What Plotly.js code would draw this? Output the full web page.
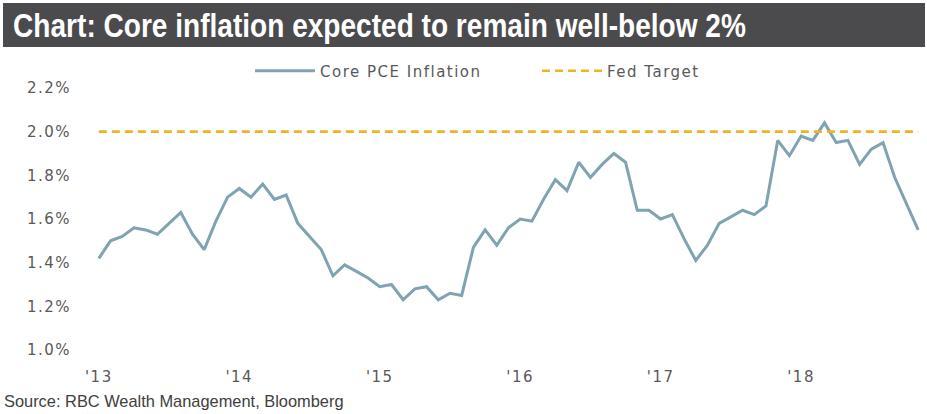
<!DOCTYPE html>
<html>
<head>
<meta charset="utf-8">
<script src="https://cdn.plot.ly/plotly-3.0.1.min.js"></script>
<style>
  html, body { margin: 0; padding: 0; background: #ffffff; }
  #chart { width: 927px; height: 414px; }
  #chart .xtick text, #chart .ytick text, #chart .legendtext { letter-spacing: 1.5px; }
</style>
</head>
<body>
<div id="chart"></div>
<script>
// ---- Data ----
const months = [
  "2013-01","2013-02","2013-03","2013-04","2013-05","2013-06","2013-07","2013-08","2013-09","2013-10","2013-11","2013-12",
  "2014-01","2014-02","2014-03","2014-04","2014-05","2014-06","2014-07","2014-08","2014-09","2014-10","2014-11","2014-12",
  "2015-01","2015-02","2015-03","2015-04","2015-05","2015-06","2015-07","2015-08","2015-09","2015-10","2015-11","2015-12",
  "2016-01","2016-02","2016-03","2016-04","2016-05","2016-06","2016-07","2016-08","2016-09","2016-10","2016-11","2016-12",
  "2017-01","2017-02","2017-03","2017-04","2017-05","2017-06","2017-07","2017-08","2017-09","2017-10","2017-11","2017-12",
  "2018-01","2018-02","2018-03","2018-04","2018-05","2018-06","2018-07","2018-08","2018-09","2018-10","2018-11"
];
const corePCE = [
  1.42,1.50,1.52,1.56,1.55,1.53,1.58,1.63,1.53,1.46,1.59,1.70,
  1.74,1.70,1.76,1.69,1.71,1.58,1.52,1.46,1.34,1.39,1.36,1.33,
  1.29,1.30,1.23,1.28,1.29,1.23,1.26,1.25,1.47,1.55,1.48,1.56,
  1.60,1.59,1.69,1.78,1.73,1.86,1.79,1.85,1.90,1.86,1.64,1.64,
  1.60,1.62,1.51,1.41,1.48,1.58,1.61,1.64,1.62,1.66,1.96,1.89,
  1.98,1.96,2.04,1.95,1.96,1.85,1.92,1.95,1.79,1.67,1.55
];
const fedTarget = months.map(() => 2.0);
const yearTickMonths = ["2013-01","2014-01","2015-01","2016-01","2017-01","2018-01"];
const yearTickLabels = ["'13","'14","'15","'16","'17","'18"];
const yTicks = [1.0, 1.2, 1.4, 1.6, 1.8, 2.0, 2.2];
const yTickLabels = ["1.0%","1.2%","1.4%","1.6%","1.8%","2.0%","2.2%"];

const seriesNames = ["Core PCE Inflation", "Fed Target"];
const titleText = "Chart: Core inflation expected to remain well-below 2%";
const sourceText = "Source: RBC Wealth Management, Bloomberg";

// ---- Layout geometry ----
const W = 927, H = 414;
const M = { l: 93, r: 3, t: 88, b: 64 };
const pw = W - M.l - M.r, ph = H - M.t - M.b;
const px = x => (x - M.l) / pw;
const py = y => (H - M.b - y) / ph;

const tickFont = { family: "DejaVu Sans, Open Sans, sans-serif", size: 15, color: "#595959" };

const traces = [
  {
    x: months, y: corePCE, name: seriesNames[0], type: "scatter", mode: "lines",
    line: { color: "#7FA3B0", width: 3 }, hoverinfo: "x+y"
  },
  {
    x: months, y: fedTarget, name: seriesNames[1], type: "scatter", mode: "lines",
    line: { color: "#F0B323", width: 2.6, dash: "8px,5px" }, hoverinfo: "x+y"
  }
];

const boundaryTicks = yearTickMonths.map(m => months.indexOf(m) - 0.5);

const layout = {
  width: W, height: H,
  margin: M,
  paper_bgcolor: "#ffffff", plot_bgcolor: "#ffffff",
  showlegend: true,
  legend: {
    orientation: "h", x: px(250), y: py(71), xanchor: "left", yanchor: "middle",
    font: tickFont, bgcolor: "rgba(0,0,0,0)", entrywidth: 212, entrywidthmode: "pixels",
    itemwidth: 60
  },
  xaxis: {
    type: "category", range: [-0.5, months.length - 0.5],
    tickvals: yearTickMonths, ticktext: yearTickLabels,
    ticks: "", showgrid: false, zeroline: false, showline: false,
    tickfont: tickFont, ticklabelstandoff: 16
  },
  xaxis2: {
    overlaying: "x", anchor: "y", side: "bottom", type: "linear",
    range: [-0.5, months.length - 0.5],
    tickvals: boundaryTicks, ticks: "outside", ticklen: 5, tickcolor: "#d0d0d0", tickwidth: 1.5,
    showticklabels: false, showgrid: false, zeroline: false,
    showline: true, linecolor: "#d0d0d0", linewidth: 1.5
  },
  yaxis: {
    range: [1.0, 2.2], tickvals: yTicks, ticktext: yTickLabels,
    ticks: "", showgrid: false, zeroline: false, showline: false,
    tickfont: tickFont, ticklabelstandoff: 21
  },
  shapes: [
    {
      type: "rect", xref: "paper", yref: "paper",
      x0: px(3), x1: px(925), y0: py(47), y1: py(3),
      fillcolor: "#4B4B4E", line: { width: 0 }, layer: "below"
    }
  ],
  annotations: [
    {
      text: "<b>" + titleText + "</b>", xref: "paper", yref: "paper",
      x: px(11), y: py(25.5), xanchor: "left", yanchor: "middle", showarrow: false,
      font: { family: "Liberation Sans, Arial, sans-serif", size: 33, color: "#ffffff" }
    },
    {
      text: sourceText, xref: "paper", yref: "paper",
      x: px(2), y: py(401), xanchor: "left", yanchor: "middle", showarrow: false,
      font: { family: "Liberation Sans, Arial, sans-serif", size: 16.4, color: "#404040" }
    }
  ]
};

Plotly.newPlot("chart", traces, layout, { displayModeBar: false, staticPlot: true }).then(() => {
  // Title uses a narrow (condensed) look as in the reference: squeeze horizontally.
  const t = document.querySelector("#chart .annotation-text");
  if (t) {
    const bb = t.getBBox();
    const target = 733;
    const s = Math.min(1, target / bb.width);
    t.style.transformBox = "fill-box";
    t.style.transformOrigin = "left center";
    t.style.transform = "scaleX(" + s + ")";
  }
});
</script>
</body>
</html>
